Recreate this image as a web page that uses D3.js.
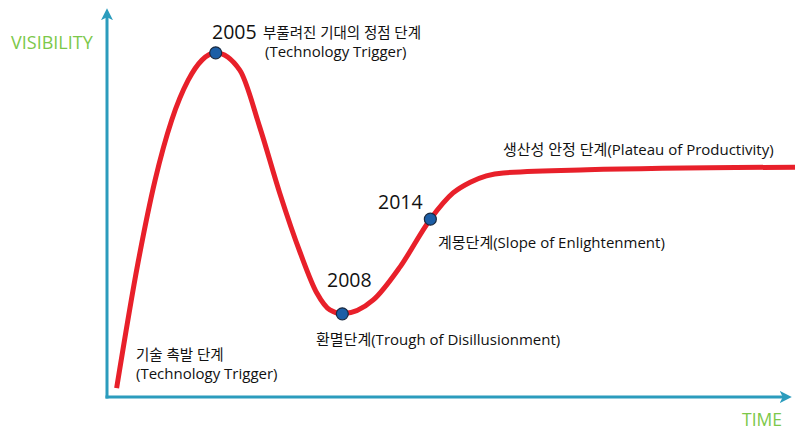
<!DOCTYPE html>
<html>
<head>
<meta charset="utf-8">
<script src="https://cdn.jsdelivr.net/npm/d3@7"></script>
<style>
  body { margin: 0; background: #fff; }
  svg { display: block; font-family: "Open Sans", "Noto Sans CJK KR", sans-serif; }
</style>
</head>
<body>
<svg id="chart" width="795" height="430"></svg>
<script>
// hype cycle, time vs visibility (0..100 both)
const curveTime = [1.4, 4.5, 7.0, 9.4, 11.8, 13.8, 15.8, 19.3, 22.2, 25.1, 28.1, 30.5, 32.4, 34.2, 38.7, 42.6, 47.0, 50.3, 52.8, 57.6, 69.8, 100];
const curveVisibility = [2.3, 34.8, 56.4, 71.9, 82.3, 87.5, 89.4, 84.9, 70.1, 53.0, 37.4, 27.0, 22.6, 21.6, 25.2, 33.8, 46.2, 53.0, 55.8, 58.2, 59.0, 59.7];

const years = ["2005", "2008", "2014"];
const yearTime = [15.8, 34.2, 47.0];
const yearVisibility = [89.4, 21.6, 46.2];

const phaseLabels = [
  ["부풀려진 기대의 정점 단계", "(Technology Trigger)"],
  ["환멸단계(Trough of Disillusionment)"],
  ["계몽단계(Slope of Enlightenment)"],
  ["생산성 안정 단계(Plateau of Productivity)"],
  ["기술 촉발 단계", "(Technology Trigger)"]
];

const width = 795, height = 430;
const svg = d3.select("#chart");

const x = d3.scaleLinear().domain([0, 100]).range([107, 795]);
const y = d3.scaleLinear().domain([0, 100]).range([397, 12]);

const axisColor = "#2b9cbd";
const green = "#7cc84a";

// arrow marker
svg.append("defs").append("marker")
    .attr("id", "arrow")
    .attr("viewBox", "0 0 10 10")
    .attr("refX", 6).attr("refY", 5)
    .attr("markerWidth", 4).attr("markerHeight", 4)
    .attr("orient", "auto")
  .append("path")
    .attr("d", "M0,0 L10,5 L0,10 L2.5,5 Z")
    .attr("fill", axisColor);

// axes
svg.append("line")
    .attr("x1", x(0)).attr("y1", y(0) + 1.5)
    .attr("x2", x(0)).attr("y2", 13)
    .attr("stroke", axisColor).attr("stroke-width", 3)
    .attr("marker-end", "url(#arrow)");

svg.append("line")
    .attr("x1", x(0) - 1.5).attr("y1", y(0))
    .attr("x2", 787).attr("y2", y(0))
    .attr("stroke", axisColor).attr("stroke-width", 3)
    .attr("marker-end", "url(#arrow)");

svg.append("text")
    .attr("x", 11).attr("y", 49)
    .attr("fill", green).attr("font-size", 18)
    .text("VISIBILITY");

svg.append("text")
    .attr("x", 742).attr("y", 426)
    .attr("fill", green).attr("font-size", 17.5)
    .text("TIME");

// curve
const pts = curveTime.map((t, i) => [t, curveVisibility[i]]);
const line = d3.line()
    .x(d => x(d[0]))
    .y(d => y(d[1]))
    .curve(d3.curveMonotoneX);

svg.append("path")
    .datum(pts)
    .attr("d", line)
    .attr("fill", "none")
    .attr("stroke", "#e8202a")
    .attr("stroke-width", 5)
    .attr("stroke-linecap", "butt");

// milestone dots
svg.selectAll("circle.ms")
    .data(years)
    .enter()
    .append("circle")
    .attr("class", "ms")
    .attr("cx", (d, i) => x(yearTime[i]))
    .attr("cy", (d, i) => y(yearVisibility[i]))
    .attr("r", 6)
    .attr("fill", "#1c5ea6")
    .attr("stroke", "#1a2a40")
    .attr("stroke-width", 1.2);

// year labels
const yearPos = [[212, 39], [327, 287], [378, 209]];
svg.selectAll("text.year")
    .data(years)
    .enter()
    .append("text")
    .attr("class", "year")
    .attr("x", (d, i) => yearPos[i][0])
    .attr("y", (d, i) => yearPos[i][1])
    .attr("font-size", 19.5)
    .attr("fill", "#111")
    .text(d => d);

// phase labels
const labelPos = [[263, 38, 57], [316, 345], [438, 248], [503, 155], [136, 360, 379]];
phaseLabels.forEach((lines, i) => {
  const p = labelPos[i];
  lines.forEach((s, j) => {
    svg.append("text")
        .attr("x", i === 0 && j === 1 ? 265 : p[0])
        .attr("y", p[1 + j])
        .attr("font-size", j === 0 && lines.length > 1 ? 14.5 : 15)
        .attr("fill", "#111")
        .text(s);
  });
});
</script>
</body>
</html>
